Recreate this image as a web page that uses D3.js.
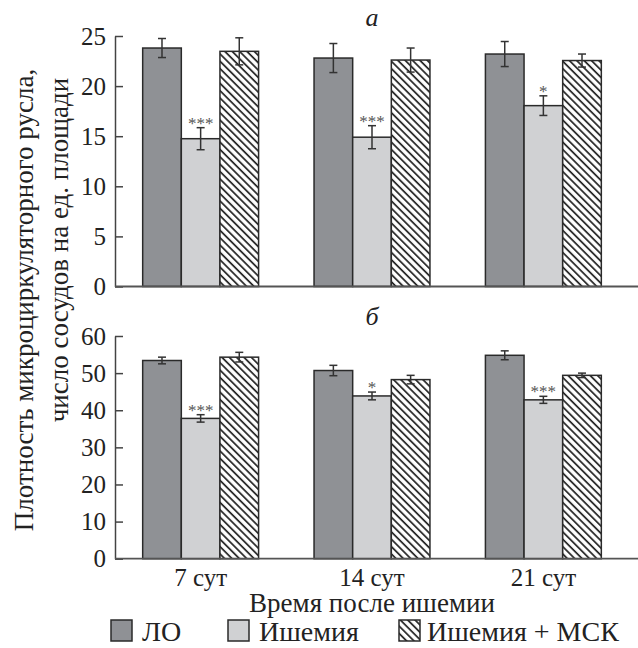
<!DOCTYPE html>
<html>
<head>
<meta charset="utf-8">
<script src="https://cdn.jsdelivr.net/npm/d3@7"></script>
<style>
  html, body { margin: 0; padding: 0; background: #fff; }
  svg { display: block; }
</style>
</head>
<body>
<svg id="chart" width="638" height="648"></svg>
<script>
const categories = ["7 сут", "14 сут", "21 сут"];
const seriesNames = ["ЛО", "Ишемия", "Ишемия + МСК"];

// Panel a
const aLO = [23.8, 22.8, 23.2];
const aIsch = [14.75, 14.9, 18.05];
const aMSK = [23.47, 22.6, 22.55];
const aLOerr = [0.95, 1.45, 1.25];
const aIschErr = [1.1, 1.15, 0.98];
const aMSKerr = [1.35, 1.2, 0.65];
const aStars = ["***", "***", "*"];
const aTicks = [0, 5, 10, 15, 20, 25];

// Panel б
const bLO = [53.4, 50.7, 54.8];
const bIsch = [37.8, 43.85, 42.8];
const bMSK = [54.3, 48.25, 49.4];
const bLOerr = [0.9, 1.4, 1.2];
const bIschErr = [1.0, 1.05, 0.95];
const bMSKerr = [1.3, 1.15, 0.6];
const bStars = ["***", "*", "***"];
const bTicks = [0, 10, 20, 30, 40, 50, 60];

const FONT = "Liberation Serif";
const TXT = "#222";

const svg = d3.select("#chart").attr("font-family", FONT);
const W = 638;
const axisX = 115;

const defs = svg.append("defs");
const pat = defs.append("pattern")
  .attr("id", "hatch")
  .attr("patternUnits", "userSpaceOnUse")
  .attr("width", 5.2).attr("height", 5.2)
  .attr("patternTransform", "rotate(-45)");
pat.append("rect").attr("width", 5.2).attr("height", 5.2).attr("fill", "#fff");
pat.append("line").attr("x1", 1).attr("x2", 1).attr("y1", 0).attr("y2", 5.2)
  .attr("stroke", "#1e1e1e").attr("stroke-width", 1.7);

const fills = ["#8f9195", "#d0d1d3", "url(#hatch)"];

const x = d3.scaleBand().domain(categories).range([axisX, 629])
  .paddingInner(0.3236).paddingOuter(0.1615);
const xs = d3.scaleBand().domain(seriesNames).range([0, x.bandwidth()]);

function drawPanel(yDomainMax, yRange, ticks, vals, errs, stars, title, titleY, showX) {
  const y = d3.scaleLinear().domain([0, yDomainMax]).range(yRange);
  const g = svg.append("g");

  const rows = categories.map((c, i) => ({
    cat: c,
    items: seriesNames.map((s, j) => ({ s, j, v: vals[j][i], e: errs[j][i] })),
    star: stars[i]
  }));

  const grp = g.selectAll("g.grp").data(rows).join("g")
    .attr("transform", d => `translate(${x(d.cat)},0)`);

  grp.selectAll("rect").data(d => d.items).join("rect")
    .attr("x", d => xs(d.s))
    .attr("y", d => y(d.v))
    .attr("width", xs.bandwidth())
    .attr("height", d => y(0) - y(d.v))
    .attr("fill", d => fills[d.j])
    .attr("stroke", "#2a2a2a")
    .attr("stroke-width", 1.5);

  const eb = grp.selectAll("g.eb").data(d => d.items).join("g")
    .attr("stroke", "#333").attr("stroke-width", 1.5);
  eb.append("line")
    .attr("x1", d => xs(d.s) + xs.bandwidth() / 2)
    .attr("x2", d => xs(d.s) + xs.bandwidth() / 2)
    .attr("y1", d => y(d.v + d.e)).attr("y2", d => y(d.v - d.e));
  eb.append("line")
    .attr("x1", d => xs(d.s) + xs.bandwidth() / 2 - 4)
    .attr("x2", d => xs(d.s) + xs.bandwidth() / 2 + 4)
    .attr("y1", d => y(d.v + d.e)).attr("y2", d => y(d.v + d.e));
  eb.append("line")
    .attr("x1", d => xs(d.s) + xs.bandwidth() / 2 - 4)
    .attr("x2", d => xs(d.s) + xs.bandwidth() / 2 + 4)
    .attr("y1", d => y(d.v - d.e)).attr("y2", d => y(d.v - d.e));

  grp.append("text")
    .attr("x", xs(seriesNames[1]) + xs.bandwidth() / 2)
    .attr("y", d => y(d.items[1].v + d.items[1].e) + 1)
    .attr("text-anchor", "middle")
    .attr("font-family", FONT)
    .attr("font-size", 17)
    .attr("fill", "#555")
    .text(d => d.star);

  // y axis
  const ya = g.append("g").attr("transform", `translate(${axisX},0)`)
    .call(d3.axisLeft(y).tickValues(ticks).tickSizeInner(-8).tickSizeOuter(0).tickPadding(9));
  ya.attr("font-family", FONT).attr("font-size", 25);
  ya.select(".domain").attr("stroke", "#444").attr("stroke-width", 1.5);
  ya.selectAll(".tick line").attr("stroke", "#444").attr("stroke-width", 1.5);
  ya.selectAll(".tick text").attr("font-family", FONT).attr("font-size", 25).attr("fill", TXT);

  // x axis baseline
  g.append("line")
    .attr("x1", axisX).attr("x2", W)
    .attr("y1", y(0)).attr("y2", y(0))
    .attr("stroke", "#555").attr("stroke-width", 1.8);

  if (showX) {
    const xa = g.append("g").attr("transform", `translate(0,${y(0)})`)
      .call(d3.axisBottom(x).tickSize(0).tickPadding(10));
    xa.attr("font-family", FONT).attr("font-size", 25);
    xa.select(".domain").remove();
    xa.selectAll(".tick text").attr("font-family", FONT).attr("font-size", 25).attr("fill", TXT);
  }

  g.append("text")
    .attr("x", x(categories[1]) + x.bandwidth() / 2)
    .attr("y", titleY)
    .attr("text-anchor", "middle")
    .attr("font-family", FONT)
    .attr("font-size", 26)
    .attr("font-style", "italic")
    .attr("fill", TXT)
    .text(title);
}

drawPanel(25, [286.5, 36], aTicks, [aLO, aIsch, aMSK], [aLOerr, aIschErr, aMSKerr], aStars, "а", 26, false);
drawPanel(60, [558.7, 336], bTicks, [bLO, bIsch, bMSK], [bLOerr, bIschErr, bMSKerr], bStars, "б", 325, true);

// y axis title
const yt = svg.append("text")
  .attr("transform", "translate(33,300) rotate(-90)")
  .attr("text-anchor", "middle")
  .attr("font-family", FONT)
  .attr("font-size", 27)
  .attr("fill", TXT);
yt.append("tspan").attr("x", 0).attr("y", 0).text("Плотность микроциркуляторного русла,");
yt.append("tspan").attr("x", 50).attr("y", 35).text("число сосудов на ед. площади");

// x axis title
svg.append("text")
  .attr("x", x(categories[1]) + x.bandwidth() / 2)
  .attr("y", 612)
  .attr("text-anchor", "middle")
  .attr("font-family", FONT)
  .attr("font-size", 27)
  .attr("fill", TXT)
  .text("Время после ишемии");

// legend
const legendX = [111, 228, 399];
const lg = svg.append("g").selectAll("g").data(seriesNames).join("g")
  .attr("transform", (d, i) => `translate(${legendX[i]},620)`);
lg.append("rect").attr("width", 21).attr("height", 21)
  .attr("fill", (d, i) => fills[i]).attr("stroke", "#2a2a2a").attr("stroke-width", 1.5);
lg.append("text").attr("x", (d, i) => i === 2 ? 28 : 31).attr("y", 21)
  .attr("font-family", FONT)
  .attr("font-size", 28)
  .attr("fill", TXT)
  .text(d => d);
</script>
</body>
</html>
